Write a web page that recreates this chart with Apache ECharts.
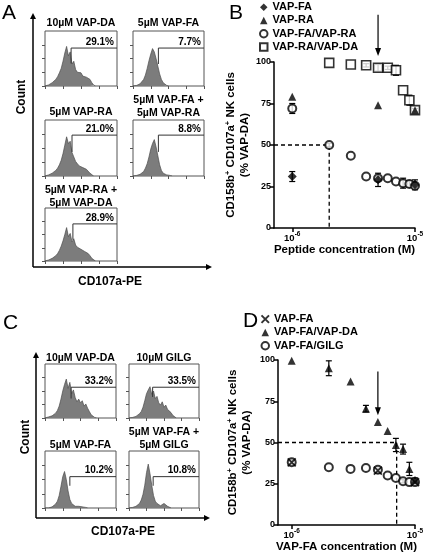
<!DOCTYPE html>
<html><head><meta charset="utf-8">
<script src="https://cdn.jsdelivr.net/npm/echarts@6/dist/echarts.min.js"></script>
<style>html,body{margin:0;padding:0;background:#fff}#c{width:431px;height:560px}</style>
</head><body><div id="c"></div>
<script>
// ---------------- DATA ----------------
// Flow histograms (counts as % of panel height, 40 bins along CD107a-PE)
const histA1 = [0,1,2,4,6,8,12,17,24,32,45,60,72,55,62,40,45,30,25,22,24,18,21,16,18,12,6,2,0];
const histA2 = [0,0,1,2,4,7,12,20,32,46,58,68,62,50,36,22,12,6,3,1,0];
const histA3 = [0,1,2,3,5,7,10,14,20,28,40,55,70,58,62,42,34,26,22,18,20,15,17,12,9,5,2,0];
const histA4 = [0,0,1,2,3,5,8,14,22,34,48,58,65,52,36,20,10,5,3,2,1,1,0];
const histA5 = [0,1,2,3,5,7,10,14,20,28,38,50,63,46,52,36,42,30,26,28,22,24,18,20,14,10,5,2,0];
const histC1 = [0,1,2,3,4,6,9,14,22,35,50,62,72,55,66,45,52,38,30,35,28,32,22,26,18,12,6,3,1,0];
const histC2 = [0,0,1,2,3,5,8,12,20,32,45,52,58,44,50,36,40,28,24,30,20,24,16,18,10,5,2,0];
const histC3 = [0,0,0,1,2,4,7,12,22,38,55,64,50,30,15,8,5,3,2,3,1,2,1,1,0];
const histC4 = [0,0,1,2,3,5,8,14,24,40,62,77,60,40,22,12,8,5,4,6,8,5,3,1,0];
// gates: [bin position, lower end, bracket height]
const gatesA = [[14.5,41,69],[14.3,40,69],[15,43,73],[14.3,43,73],[15.5,40,70]];
const gatesC = [[14.7,36,57],[13.5,39,57],[14,39,55],[13.8,39,55]];
const pctA = ['29.1%','7.7%','21.0%','8.8%','28.9%'];
const pctC = ['33.2%','33.5%','10.2%','10.8%'];
const titlesA = [['10µM VAP-DA'],['5µM VAP-FA'],['5µM VAP-RA'],['5µM VAP-FA +','5µM VAP-RA'],['5µM VAP-RA +','5µM VAP-DA']];
const titlesC = [['10µM VAP-DA'],['10µM GILG'],['5µM VAP-FA'],['5µM VAP-FA +','5µM GILG']];

// Panel B (concentration M, % VAP-DA, error)
const bFA_x = [1e-6,5e-6,1e-5], bFA_y = [31,29,26], bFA_e = [3,4,3];
const bRA_x = [1e-6,5e-6,1e-5], bRA_y = [79,74,71];
const bFARA_x = [1e-6,2e-6,3e-6,4e-6,5e-6,6e-6,7e-6,8e-6,9e-6,1e-5];
const bFARA_y = [72,50,43.5,31,30,30,28,27,26.5,25.5];
const bFARA_e = [3,1,0,0,1,0,0,3,2,1];
const bRADA_x = [2e-6,3e-6,4e-6,5e-6,6e-6,7e-6,8e-6,9e-6,1e-5];
const bRADA_y = [99.5,98.5,98,96.5,96.5,95,83,77,71];
const bRADA_e = [0,0,1,2,1,3,0,3,1];
const bDash = [[7.1e-7,50],[2e-6,50],[2e-6,0]];
const bArrow = [[5e-6,128.5],[5e-6,106]];

// Panel D
const dFA_x = [1e-6,5e-6,1e-5], dFA_y = [38,33,26], dFA_e = [1.5,1.5,1.5];
const dFADA_x = [1e-6,2e-6,3e-6,4e-6,5e-6,6e-6,7e-6,8e-6,9e-6,1e-5];
const dFADA_y = [99.5,95,87,70.5,62.5,57,48.5,46,34,27.5];
const dFADA_e = [0,4.5,0,2,0,0,4,3,4,1];
const dGILG_x = [1e-6,2e-6,3e-6,4e-6,5e-6,6e-6,7e-6,8e-6,9e-6,1e-5];
const dGILG_y = [38,35,34,34.5,33.5,30,28.5,26.5,26,26];
const dGILG_e = [1,0,0,0,0,0,0,1,0,1];
const dDash = [[7.74e-7,50],[7.1e-6,50],[7.1e-6,0]];
const dArrow = [[5e-6,93],[5e-6,69]];

// ---------------- LAYOUT ----------------
const FONT = 'Liberation Sans';
const histRectsA = [{l:45,t:31,w:72,h:55,ty:23},{l:133,t:31,w:71,h:55,ty:23},{l:45,t:120,w:72,h:56,ty:112},{l:133,t:120,w:71,h:56,ty:113},{l:45,t:208,w:72,h:53,ty:203}];
const histRectsC = [{l:45,t:364,w:71,h:54,ty:358},{l:129,t:364,w:70,h:54,ty:358},{l:45,t:451,w:71,h:57,ty:445},{l:129,t:451,w:70,h:57,ty:445}];
const histsA = [histA1,histA2,histA3,histA4,histA5];
const histsC = [histC1,histC2,histC3,histC4];

const grids=[], xAxes=[], yAxes=[], series=[], graphics=[];
function pairs(xs, ys){ return xs.map((x,i)=>[x,ys[i]]); }
function errs(xs, ys, es){ return xs.map((x,i)=>[x,ys[i],es[i]]).filter(d=>d[2]>0); }

function addHist(rect, hist, gate, pct, title){
  const gi = grids.length;
  grids.push({left:rect.l, top:rect.t, width:rect.w, height:rect.h, show:true, borderColor:'#555', borderWidth:1, backgroundColor:'transparent'});
  xAxes.push({gridIndex:gi, type:'value', min:0, max:40, axisLine:{show:false}, splitLine:{show:false}, axisLabel:{show:false},
    axisTick:{show:true, customValues:[0,10,20,30,40], length:3, lineStyle:{color:'#555', width:1}}});
  yAxes.push({gridIndex:gi, type:'value', min:0, max:100, axisLine:{show:false}, splitLine:{show:false}, axisLabel:{show:false},
    axisTick:{show:true, customValues:[0,25,50,75], length:3, lineStyle:{color:'#555', width:1}}});
  series.push({type:'line', xAxisIndex:gi, yAxisIndex:gi, data:hist.map((v,i)=>[i,v]), symbol:'none', silent:true,
    lineStyle:{color:'#4d4d4d', width:0.7}, areaStyle:{color:'#7c7c7c', opacity:1}});
  series.push({type:'line', xAxisIndex:gi, yAxisIndex:gi, data:[[gate[0],gate[1]],[gate[0],gate[2]],[40,gate[2]]], symbol:'none', silent:true,
    lineStyle:{color:'#333', width:1}});
  const lineY = rect.t + rect.h*(1-gate[2]/100);
  graphics.push({type:'text', x:rect.l+rect.w-3, y:lineY-1, style:{text:pct, align:'right', verticalAlign:'bottom', font:'bold 10px '+FONT, fill:'#000'}});
  title.forEach((t,k)=>{
    const y = rect.ty - (title.length-1-k)*12.5;
    graphics.push({type:'text', x:rect.l+rect.w/2, y:y, style:{text:t, align:'center', verticalAlign:'middle', font:'bold 10.5px '+FONT, fill:'#000'}});
  });
}
histRectsA.forEach((r,i)=>addHist(r, histsA[i], gatesA[i], pctA[i], titlesA[i]));
histRectsC.forEach((r,i)=>addHist(r, histsC[i], gatesC[i], pctC[i], titlesC[i]));

// axes arrows for A and C
function arrowAxes(x0, yTop, yBot, xRight){
  const st = {stroke:'#000', lineWidth:1.5};
  graphics.push({type:'line', shape:{x1:x0,y1:yBot,x2:x0,y2:yTop+4}, style:st});
  graphics.push({type:'line', shape:{x1:x0,y1:yBot,x2:xRight-4,y2:yBot}, style:st});
  graphics.push({type:'polygon', shape:{points:[[x0-3,yTop+6],[x0+3,yTop+6],[x0,yTop]]}, style:{fill:'#000'}});
  graphics.push({type:'polygon', shape:{points:[[xRight-6,yBot-3],[xRight-6,yBot+3],[xRight,yBot]]}, style:{fill:'#000'}});
}
arrowAxes(33, 13, 267, 212);
arrowAxes(36, 352, 518, 210);
graphics.push({type:'text', x:22, y:97, rotation:Math.PI/2, style:{text:'Count', align:'center', verticalAlign:'middle', font:'bold 12px '+FONT, fill:'#000'}});
graphics.push({type:'text', x:110, y:282, style:{text:'CD107a-PE', align:'center', verticalAlign:'middle', font:'bold 12px '+FONT, fill:'#000'}});
graphics.push({type:'text', x:26, y:437, rotation:Math.PI/2, style:{text:'Count', align:'center', verticalAlign:'middle', font:'bold 12px '+FONT, fill:'#000'}});
graphics.push({type:'text', x:123, y:532, style:{text:'CD107a-PE', align:'center', verticalAlign:'middle', font:'bold 12px '+FONT, fill:'#000'}});
[['A',2,3],['B',229,3],['C',3,313],['D',243,311]].forEach(p=>{
  graphics.push({type:'text', x:p[1], y:p[2], style:{text:p[0], font:'21px '+FONT, fill:'#000'}});
});

// ---------------- SCATTER PANELS ----------------
const logLabel = {
  formatter: function(v){ const e = Math.round(Math.log10(v)); if (Math.abs(Math.log10(v)-e) > 1e-6) return ''; return '{a|10}{s|'+e+'}'; },
  margin: 3,
  rich: {a:{fontSize:9.5, fontWeight:'bold', fontFamily:FONT, color:'#000', padding:[2,0,0,0], lineHeight:12},
         s:{fontSize:6.5, fontWeight:'bold', fontFamily:FONT, color:'#000', verticalAlign:'top', lineHeight:7}}
};
const yNameStyle = {fontSize:11.5, fontWeight:'bold', fontFamily:FONT, color:'#000', lineHeight:14,
  rich:{s:{fontSize:7.5, fontWeight:'bold', fontFamily:FONT, color:'#000', verticalAlign:'top', lineHeight:8}}};
function addScatterPanel(rect, xmin, xname){
  const gi = grids.length;
  grids.push({left:rect.l, top:rect.t, width:rect.w, height:rect.h});
  xAxes.push({gridIndex:gi, type:'log', logBase:10, min:xmin, max:1e-5,
    axisLine:{lineStyle:{color:'#000', width:1.5}}, axisTick:{length:4, lineStyle:{width:1.5}, customValues:[1e-6,1e-5]},
    axisLabel:Object.assign({customValues:[1e-6,1e-5]}, logLabel), splitLine:{show:false}, minorTick:{show:false},
    name:xname, nameLocation:'middle', nameGap:14, nameTextStyle:{fontSize:11.5, fontWeight:'bold', fontFamily:FONT, color:'#000', verticalAlign:'top'}});
  yAxes.push({gridIndex:gi, type:'value', min:0, max:100, interval:25,
    axisLine:{show:true, lineStyle:{color:'#000', width:1.5}}, axisTick:{show:true, length:4, lineStyle:{width:1.5}},
    axisLabel:{fontSize:9, fontWeight:'bold', fontFamily:FONT, color:'#000', margin:3}, splitLine:{show:false},
    name:'CD158b{s|+} CD107a{s|+} NK cells\n(% VAP-DA)', nameLocation:'middle', nameGap:rect.ng, nameRotate:90, nameTextStyle:yNameStyle});
  return gi;
}
function errRender(params, api){
  const x=api.value(0), y=api.value(1), e=api.value(2);
  const hi=api.coord([x,y+e]), lo=api.coord([x,y-e]);
  const w=3, st={stroke:'#000', lineWidth:1.2};
  return {type:'group', children:[
    {type:'line', shape:{x1:hi[0],y1:hi[1],x2:lo[0],y2:lo[1]}, style:st},
    {type:'line', shape:{x1:hi[0]-w,y1:hi[1],x2:hi[0]+w,y2:hi[1]}, style:st},
    {type:'line', shape:{x1:lo[0]-w,y1:lo[1],x2:lo[0]+w,y2:lo[1]}, style:st}]};
}
function errSeries(gi, data){ return {type:'custom', xAxisIndex:gi, yAxisIndex:gi, data:data, renderItem:errRender, silent:true, z:1}; }
function dashSeries(gi, data){ return {type:'line', xAxisIndex:gi, yAxisIndex:gi, data:data, symbol:'none', silent:true, lineStyle:{color:'#000', width:1.3, type:[4,3]}}; }
function arrowSeries(gi, data){ return {type:'line', xAxisIndex:gi, yAxisIndex:gi, clip:false, silent:true, lineStyle:{color:'#000', width:1.2},
  data:[{value:data[0], symbol:'none'}, {value:data[1], symbol:'triangle', symbolRotate:180, symbolSize:[6,8], itemStyle:{color:'#000'}}]}; }

const openCircle = {color:'#fff', borderColor:'#000', borderWidth:2};
const openSquare = {color:'#fff', borderColor:'#000', borderWidth:1.6};
const fill = {color:'#000'};

const gB = addScatterPanel({l:274, t:62, w:141, h:166, ng:20}, 7.1e-7, 'Peptide concentration (M)');
series.push(dashSeries(gB, bDash));
series.push(arrowSeries(gB, bArrow));
series.push(errSeries(gB, errs(bRADA_x,bRADA_y,bRADA_e)));
series.push(errSeries(gB, errs(bFARA_x,bFARA_y,bFARA_e)));
series.push(errSeries(gB, errs(bFA_x,bFA_y,bFA_e)));
series.push({name:'VAP-RA/VAP-DA', type:'scatter', xAxisIndex:gB, yAxisIndex:gB, data:pairs(bRADA_x,bRADA_y), symbol:'rect', symbolSize:9, itemStyle:openSquare, z:3});
series.push({name:'VAP-FA/VAP-RA', type:'scatter', xAxisIndex:gB, yAxisIndex:gB, data:pairs(bFARA_x,bFARA_y), symbol:'circle', symbolSize:8, itemStyle:openCircle, z:3});
series.push({name:'VAP-RA', type:'scatter', xAxisIndex:gB, yAxisIndex:gB, data:pairs(bRA_x,bRA_y), symbol:'triangle', symbolSize:8, itemStyle:fill, z:4});
series.push({name:'VAP-FA', type:'scatter', xAxisIndex:gB, yAxisIndex:gB, data:pairs(bFA_x,bFA_y), symbol:'diamond', symbolSize:9, itemStyle:fill, z:5});

const gD = addScatterPanel({l:278, t:360, w:137, h:165, ng:24}, 7.74e-7, 'VAP-FA concentration (M)');
series.push(dashSeries(gD, dDash));
series.push(arrowSeries(gD, dArrow));
series.push(errSeries(gD, errs(dFADA_x,dFADA_y,dFADA_e)));
series.push(errSeries(gD, errs(dGILG_x,dGILG_y,dGILG_e)));
series.push(errSeries(gD, errs(dFA_x,dFA_y,dFA_e)));
series.push({name:'VAP-FA/GILG', type:'scatter', xAxisIndex:gD, yAxisIndex:gD, data:pairs(dGILG_x,dGILG_y), symbol:'circle', symbolSize:8, itemStyle:openCircle, z:3});
series.push({name:'VAP-FA/VAP-DA', type:'scatter', xAxisIndex:gD, yAxisIndex:gD, data:pairs(dFADA_x,dFADA_y), symbol:'triangle', symbolSize:8, itemStyle:fill, z:4});
series.push({name:'VAP-FA ', type:'scatter', xAxisIndex:gD, yAxisIndex:gD, data:pairs(dFA_x,dFA_y), symbol:'path://M0,0L10,10M10,0L0,10', symbolSize:8,
  itemStyle:{color:'none', borderColor:'#000', borderWidth:1.8}, z:5});

const legendText = {fontSize:11, fontWeight:'bold', fontFamily:FONT, color:'#000', lineHeight:13.3};
const option = {
  animation:false,
  backgroundColor:'#fff',
  grid:grids, xAxis:xAxes, yAxis:yAxes, series:series,
  legend:[
    {orient:'vertical', left:259, top:0.5, itemWidth:7.5, itemHeight:7.5, itemGap:0, selectedMode:false, textStyle:legendText, padding:0,
      data:['VAP-FA','VAP-RA','VAP-FA/VAP-RA','VAP-RA/VAP-DA']},
    {orient:'vertical', left:259, top:312.5, itemWidth:7.5, itemHeight:7.5, itemGap:0, selectedMode:false, textStyle:legendText, padding:0,
      data:['VAP-FA ','VAP-FA/VAP-DA','VAP-FA/GILG']}
  ],
  graphic:graphics
};
const chart = echarts.init(document.getElementById('c'), null, {renderer:'canvas'});
chart.setOption(option);
</script></body></html>
